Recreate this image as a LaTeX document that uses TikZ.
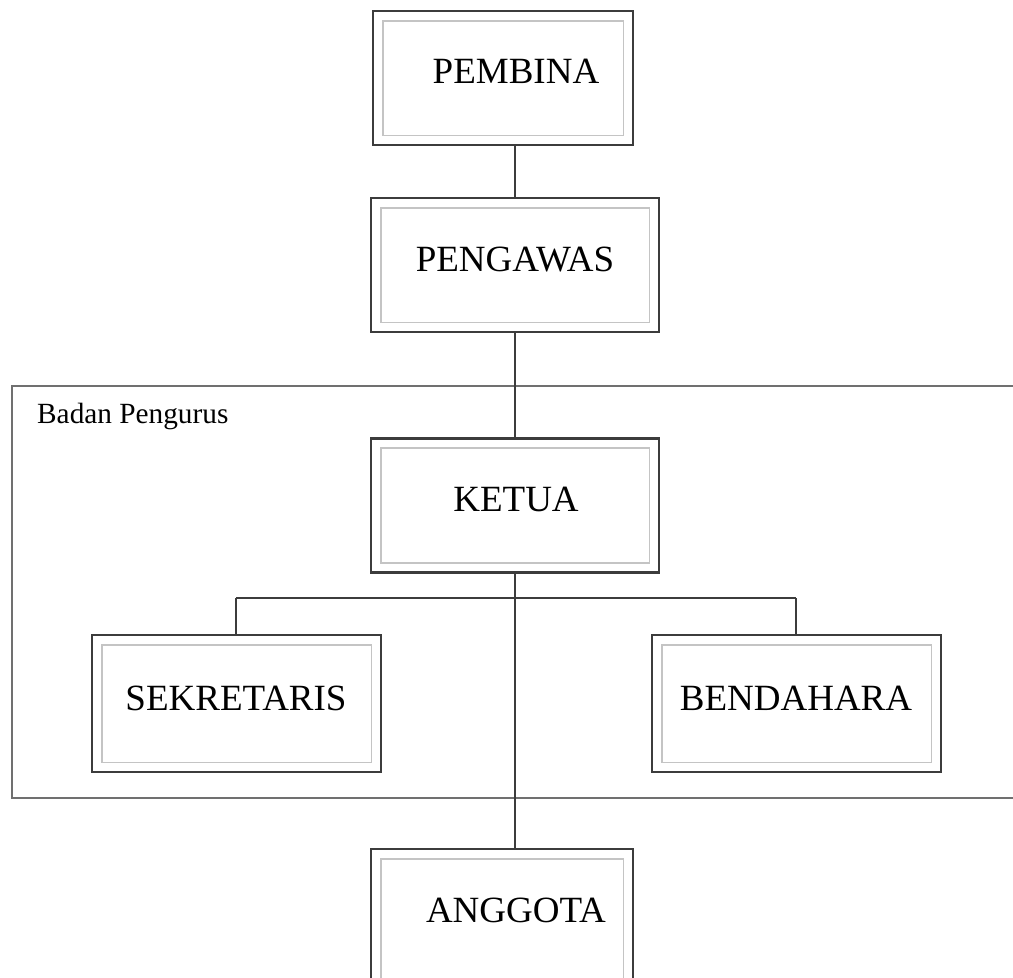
\documentclass[tikz,border=0pt]{standalone}
\usepackage{fontspec}
\setmainfont{Liberation Serif}
\definecolor{edge}{HTML}{3C3C3C}
\definecolor{inner}{HTML}{C4C4C4}
\definecolor{frame}{HTML}{707070}
\begin{document}
\begin{tikzpicture}[x=1pt,y=-1pt,
  box/.style={draw=edge,line width=2.8pt,minimum width=#1,minimum height=134pt,inner sep=0pt,fill=white},
  box/.default=288pt,
  lbl/.style={anchor=base,font=\fontsize{37}{40}\selectfont,text=black,inner sep=0pt},
  conn/.style={draw=edge,line width=1.6pt},
  innerframe/.style={draw=inner,line width=1.8pt}]
\useasboundingbox (0,0) rectangle (1013,978);
% container
\draw[frame,line width=1.8pt] (1013,386) -- (12,386) -- (12,798) -- (1013,798);
\node[anchor=base west,font=\fontsize{29.3}{31}\selectfont,inner sep=0pt] (badan) at (37,423) {Badan Pengurus};
% boxes
\node[box=260pt] (pembina) at (503,78) {};
\node[box] (pengawas) at (515,265) {};
\node[box] (ketua) at (515,505.5) {};
\node[box=289pt,minimum height=137pt] (sekretaris) at (236.5,703.5) {};
\node[box=289pt,minimum height=137pt] (bendahara) at (796.5,703.5) {};
\node[box=262pt,minimum height=146pt] (anggota) at (502,922) {};
\foreach \n in {pembina,pengawas,ketua,sekretaris,bendahara,anggota}
  \draw[innerframe] ([shift={(11pt,-11pt)}]\n.north west) rectangle ([shift={(-11pt,11pt)}]\n.south east);
% labels
\node[lbl] (tpembina) at (516,83) {PEMBINA};
\node[lbl] (tpengawas) at (515,271) {PENGAWAS};
\node[lbl] (tketua) at (516,511) {KETUA};
\node[lbl] (tsekretaris) at (236,710) {SEKRETARIS};
\node[lbl] (tbendahara) at (796,710) {BENDAHARA};
\node[lbl] (tanggota) at (516,922) {ANGGOTA};
% connectors
\coordinate (split) at (515,598);
\coordinate (sl) at (236,598);
\coordinate (sr) at (796,598);
\draw[conn] (pembina.south -| ketua) -- (pengawas.north);
\draw[conn] (pengawas.south) -- (ketua.north);
\draw[conn] (ketua.south) -- (anggota.north -| ketua);
\draw[conn] (sl) -- (sr);
\draw[conn] (sl) -- (sekretaris.north -| sl);
\draw[conn] (sr) -- (bendahara.north -| sr);
\end{tikzpicture}
\end{document}
